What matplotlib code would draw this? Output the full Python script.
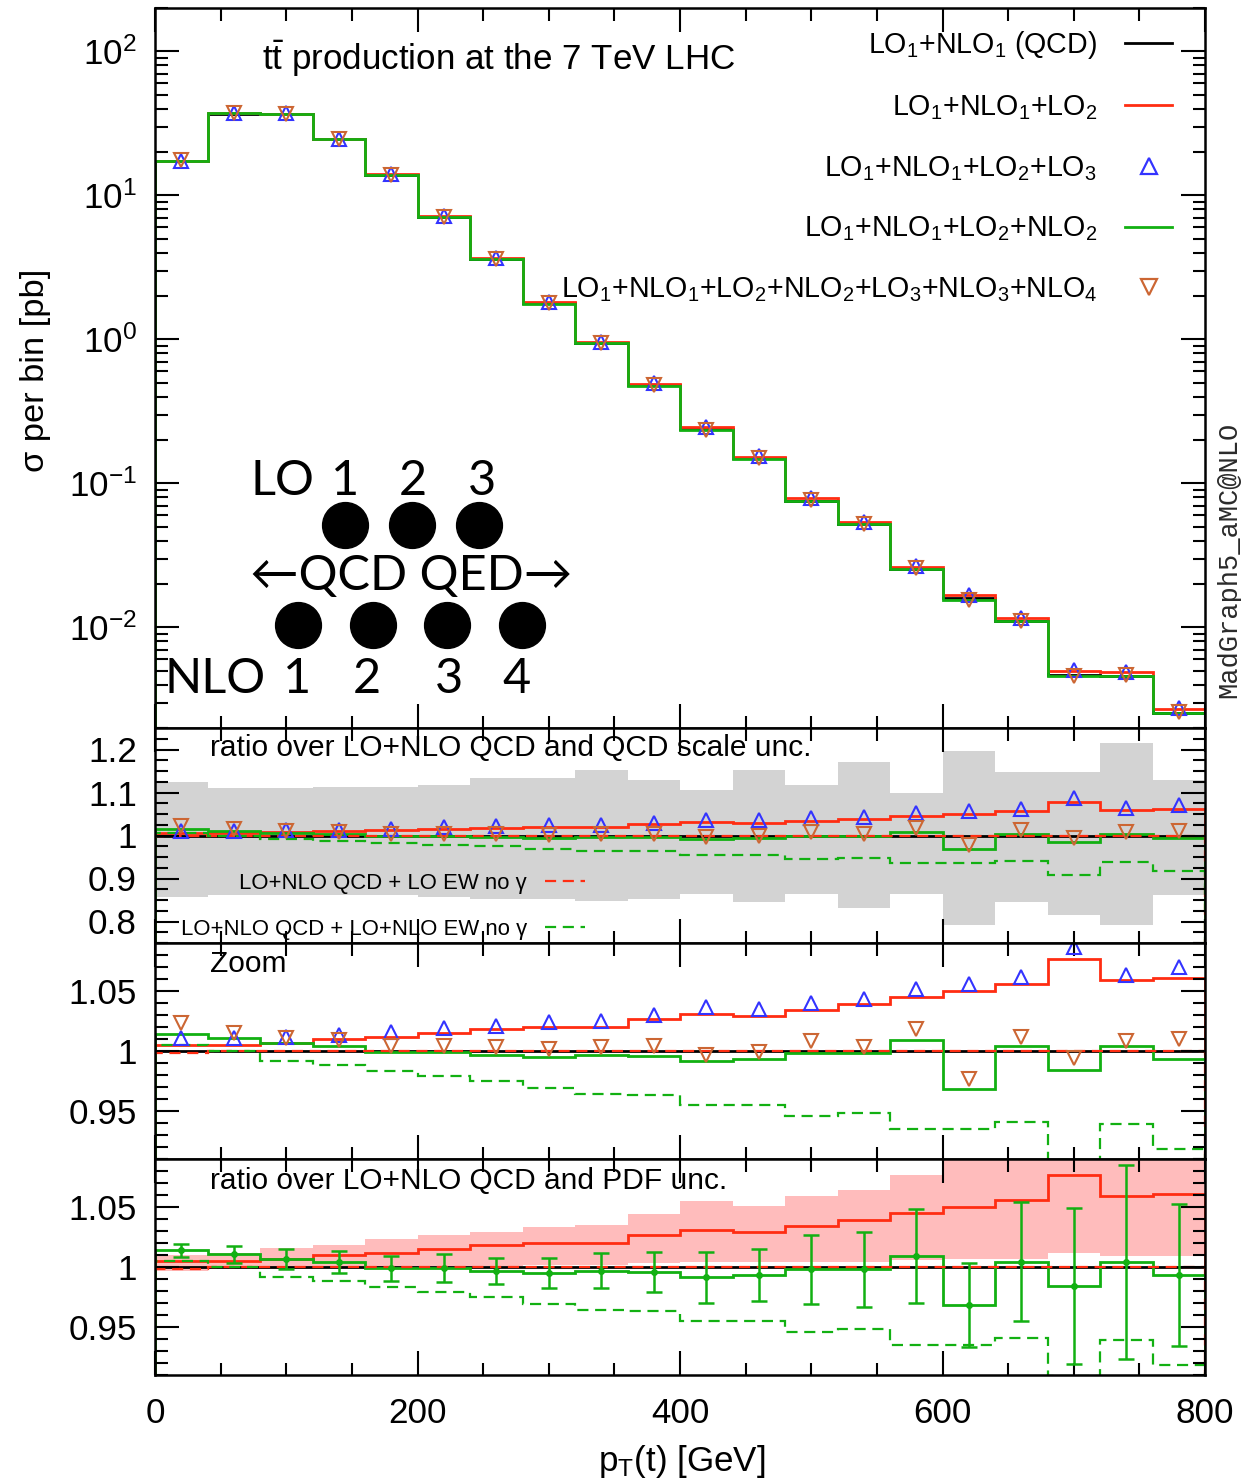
import numpy as np
import matplotlib
matplotlib.use("Agg")
import matplotlib.pyplot as plt
from matplotlib import font_manager
from matplotlib.lines import Line2D
from matplotlib.ticker import MultipleLocator, FuncFormatter, LogLocator, NullFormatter

# ---------------------------------------------------------------- data
pt_edges = [0, 40, 80, 120, 160, 200, 240, 280, 320, 360, 400,
            440, 480, 520, 560, 600, 640, 680, 720, 760, 800]

# LO1+NLO1 (QCD) cross section per bin [pb]
sigma_qcd = [17.2, 37.0, 36.6, 24.5, 13.8, 7.1, 3.6, 1.78, 0.94, 0.48,
             0.237, 0.149, 0.076, 0.052, 0.0253, 0.0159, 0.0110, 0.00464,
             0.00460, 0.00256]

# ratios over LO1+NLO1 (QCD)
ratio_lo2 = [1.005, 1.005, 1.007, 1.010, 1.012, 1.015, 1.018, 1.020, 1.020, 1.027,
             1.031, 1.029, 1.034, 1.039, 1.045, 1.050, 1.056, 1.077, 1.059, 1.061]
ratio_lo3 = [1.011, 1.011, 1.012, 1.013, 1.016, 1.019, 1.021, 1.024, 1.025, 1.030,
             1.037, 1.035, 1.040, 1.043, 1.052, 1.056, 1.062, 1.087, 1.063, 1.070]
ratio_nlo2 = [1.014, 1.0105, 1.0067, 1.004, 0.999, 0.999, 0.9967, 0.995, 0.9967, 0.996,
              0.9914, 0.9933, 0.998, 0.998, 1.0092, 0.9683, 1.0044, 0.984, 1.0044, 0.9933]
ratio_all = [1.023, 1.015, 1.011, 1.009, 1.004, 1.004, 1.003, 1.002, 1.003, 1.0045,
             0.997, 0.999, 1.0086, 1.003, 1.018, 0.977, 1.012, 0.994, 1.008, 1.010]
ratio_lo_ew = [0.998, 1.0, 1.0, 1.0, 1.0, 1.0, 1.0, 1.0, 1.0, 1.0,
               1.0, 1.0, 1.0, 1.0, 1.0, 1.0, 1.0, 1.0, 1.0, 1.0]
ratio_nlo_ew = [1.005, 1.0, 0.992, 0.988, 0.983, 0.979, 0.975, 0.969, 0.964, 0.963,
                0.955, 0.955, 0.946, 0.948, 0.935, 0.935, 0.941, 0.909, 0.939, 0.918]

# QCD scale uncertainty band
scale_hi = [1.125, 1.110, 1.110, 1.113, 1.113, 1.117, 1.134, 1.134, 1.152, 1.129,
            1.106, 1.152, 1.117, 1.171, 1.098, 1.197, 1.148, 1.148, 1.216, 1.129]
scale_lo = [0.858, 0.862, 0.862, 0.862, 0.862, 0.858, 0.853, 0.853, 0.847, 0.853,
            0.863, 0.846, 0.863, 0.832, 0.863, 0.791, 0.845, 0.815, 0.791, 0.862]

# PDF uncertainty band
pdf_hi = [1.010, 1.012, 1.016, 1.018, 1.023, 1.027, 1.029, 1.033, 1.035, 1.044,
          1.055, 1.051, 1.059, 1.064, 1.077, 1.095, 1.100, 1.110, 1.115, 1.110]
pdf_lo = [0.997, 0.998, 0.998, 0.999, 1.000, 1.001, 1.001, 1.002, 1.002, 1.003,
          1.004, 1.004, 1.004, 1.004, 1.006, 1.007, 1.007, 1.012, 1.009, 1.009]

# MC statistical uncertainty of LO1+NLO1+LO2+NLO2 ratio
stat_err = [0.0053, 0.007, 0.0087, 0.009, 0.0104, 0.0115, 0.011, 0.0125, 0.0146, 0.0167,
            0.021, 0.0217, 0.029, 0.0315, 0.039, 0.035, 0.0496, 0.065, 0.081, 0.059]

edges = np.array(pt_edges, dtype=float)
mid = 0.5 * (edges[:-1] + edges[1:])
qcd = np.array(sigma_qcd)
r_lo2, r_lo3, r_nlo2 = np.array(ratio_lo2), np.array(ratio_lo3), np.array(ratio_nlo2)
r_all, r_loew, r_nloew = np.array(ratio_all), np.array(ratio_lo_ew), np.array(ratio_nlo_ew)
r_qcd = qcd / qcd

# ---------------------------------------------------------------- style
names = {f.name for f in font_manager.fontManager.ttflist}
NARROW = 'Liberation Sans Narrow' in names
SANS = 'Liberation Sans Narrow' if NARROW else 'Liberation Sans'
k = 1.0 if NARROW else 0.84

plt.rcParams.update({
    'font.family': [SANS, 'DejaVu Sans'],
    'mathtext.fontset': 'custom',
    'mathtext.rm': SANS,
    'mathtext.it': SANS + ':italic',
    'mathtext.bf': SANS + ':bold',
    'axes.linewidth': 1.8,
    'axes.unicode_minus': False,
})

BLACK = '#000000'
RED = '#ff2d12'
GREEN = '#12b012'
BLUE = '#3333ff'
BROWN = '#cc6633'
GREY = '#d3d3d3'
PINK = '#ffbcbc'
LW = 2.0

fig = plt.figure(figsize=(12.41, 14.82), dpi=100)
L, W = 155 / 1241, 1050 / 1241
H = 1482.0
ax0 = fig.add_axes([L, 1 - 728 / H, W, 720 / H])
ax1 = fig.add_axes([L, 1 - 943 / H, W, 215 / H])
ax2 = fig.add_axes([L, 1 - 1159 / H, W, 216 / H])
ax3 = fig.add_axes([L, 1 - 1375 / H, W, 216 / H])
axes = [ax0, ax1, ax2, ax3]

for ax in axes:
    ax.set_xlim(0, 800)
    ax.xaxis.set_major_locator(MultipleLocator(200))
    ax.xaxis.set_minor_locator(MultipleLocator(50))
    ax.tick_params(which='both', direction='in', top=True, right=True,
                   width=1.5, labelsize=30 * k, pad=13)
    ax.tick_params(which='major', length=17)
    ax.tick_params(which='minor', length=9)
    if ax is not ax3:
        ax.tick_params(labelbottom=False)
ax3.tick_params(axis='x', pad=16)

# ---------------------------------------------------------------- main panel
ax0.set_yscale('log')
ax0.set_ylim(2e-3, 2e2)
ax0.yaxis.set_major_locator(LogLocator(base=10, numticks=10))
ax0.yaxis.set_minor_locator(LogLocator(base=10, subs=np.arange(2, 10), numticks=20))
ax0.yaxis.set_minor_formatter(NullFormatter())

ax0.stairs(qcd, edges, color=BLACK, lw=LW)
ax0.stairs(qcd * r_lo2, edges, color=RED, lw=LW)
ax0.stairs(qcd * r_nlo2, edges, color=GREEN, lw=LW)
ax0.plot(mid, qcd * r_lo3, ls='none', marker='^', ms=10, mfc='none', mec=BLUE, mew=1.5)
ax0.plot(mid, qcd * r_all, ls='none', marker='v', ms=10, mfc='none', mec=BROWN, mew=1.5)

handles = [
    Line2D([], [], color=BLACK, lw=LW),
    Line2D([], [], color=RED, lw=LW),
    Line2D([], [], ls='none', marker='^', ms=12, mfc='none', mec=BLUE, mew=1.6),
    Line2D([], [], color=GREEN, lw=LW),
    Line2D([], [], ls='none', marker='v', ms=12, mfc='none', mec=BROWN, mew=1.6),
]
labels = [
    r'LO$_1$+NLO$_1$ (QCD)',
    r'LO$_1$+NLO$_1$+LO$_2$',
    r'LO$_1$+NLO$_1$+LO$_2$+LO$_3$',
    r'LO$_1$+NLO$_1$+LO$_2$+NLO$_2$',
    r'LO$_1$+NLO$_1$+LO$_2$+NLO$_2$+LO$_3$+NLO$_3$+NLO$_4$',
]
ax0.legend(handles, labels, loc='upper right', bbox_to_anchor=(0.9686, 0.971),
           frameon=False, markerfirst=False, fontsize=24.5 * k, borderpad=0,
           borderaxespad=0, handlelength=1.64, handletextpad=0.98,
           labelspacing=1.12)

ax0.text(0.102, 0.9139, r'$\mathrm{t\bar{t}}$ production at the 7 TeV LHC',
         transform=ax0.transAxes, fontsize=30 * k, ha='left', va='baseline')

# order diagram
DIAG = ['Lato', 'DejaVu Sans']
dkw = dict(transform=ax0.transAxes, fontsize=35, family=DIAG, va='baseline', ha='center')
ax0.text(0.121, 0.3236, 'LO', **dkw)
for x, s in [(0.181, '1'), (0.2457, '2'), (0.3114, '3')]:
    ax0.text(x, 0.3236, s, **dkw)
ax0.text(0.2443, 0.1917, '\u2190QCD QED\u2192', **dkw)
ax0.text(0.0571, 0.0486, 'NLO', **dkw)
for x, s in [(0.1352, '1'), (0.2019, '2'), (0.28, '3'), (0.3448, '4')]:
    ax0.text(x, 0.0486, s, **dkw)
ax0.scatter([0.181, 0.2448, 0.3086], [0.282] * 3, s=33 ** 2, c='k',
            transform=ax0.transAxes, zorder=5)
ax0.scatter([0.1362, 0.2076, 0.2781, 0.3495], [0.143] * 4, s=33 ** 2, c='k',
            transform=ax0.transAxes, zorder=5)

# ---------------------------------------------------------------- ratio panels
fmt = FuncFormatter(lambda v, p: f'{v:g}')

def ratio_lines(ax, markers=True):
    ax.stairs(r_qcd, edges, color=BLACK, lw=LW)
    ax.stairs(r_lo2, edges, color=RED, lw=LW)
    ax.stairs(r_nlo2, edges, color=GREEN, lw=LW)
    ax.stairs(r_loew, edges, color=RED, lw=1.6, ls=(0, (5, 3)))
    ax.stairs(r_nloew, edges, color=GREEN, lw=1.6, ls=(0, (5, 3)))
    if markers:
        ax.plot(mid, r_lo3, ls='none', marker='^', ms=10, mfc='none', mec=BLUE, mew=1.5)
        ax.plot(mid, r_all, ls='none', marker='v', ms=10, mfc='none', mec=BROWN, mew=1.5)

# scale uncertainty
ax1.stairs(scale_hi, edges, baseline=scale_lo, fill=True, color=GREY, lw=0)
ratio_lines(ax1)
ax1.set_ylim(0.75, 1.25)
ax1.yaxis.set_major_locator(MultipleLocator(0.1))
ax1.yaxis.set_minor_locator(MultipleLocator(0.025))
ax1.yaxis.set_major_formatter(fmt)
ax1.text(0.0524, 0.907, 'ratio over LO+NLO QCD and QCD scale unc.',
         transform=ax1.transAxes, fontsize=25.6 * k, ha='left', va='center')
leg_h = [Line2D([], [], color=RED, lw=1.6, ls=(0, (5, 3))),
         Line2D([], [], color=GREEN, lw=1.6, ls=(0, (5, 3)))]
ax1.legend(leg_h, ['LO+NLO QCD + LO EW no \u03b3', 'LO+NLO QCD + LO+NLO EW no \u03b3'],
           loc='lower right', bbox_to_anchor=((585 - 155) / 1050, 0.015),
           frameon=False, markerfirst=False, fontsize=19 * k, borderpad=0,
           borderaxespad=0, handlelength=1.82, handletextpad=0.8,
           labelspacing=1.13)

# zoom
ratio_lines(ax2)
ax2.set_ylim(0.91, 1.09)
ax2.yaxis.set_major_locator(MultipleLocator(0.05))
ax2.yaxis.set_minor_locator(MultipleLocator(0.01))
ax2.yaxis.set_major_formatter(fmt)
ax2.text(0.0524, 0.903, 'Zoom', transform=ax2.transAxes, fontsize=25.6 * k,
         ha='left', va='center')

# PDF uncertainty
ax3.stairs(pdf_hi, edges, baseline=pdf_lo, fill=True, color=PINK, lw=0)
ratio_lines(ax3, markers=False)
ax3.errorbar(mid, r_nlo2, yerr=stat_err, fmt='o', ms=4, color=GREEN,
             elinewidth=1.8, capsize=6, capthick=1.8)
ax3.set_ylim(0.91, 1.09)
ax3.yaxis.set_major_locator(MultipleLocator(0.05))
ax3.yaxis.set_minor_locator(MultipleLocator(0.01))
ax3.yaxis.set_major_formatter(fmt)
ax3.xaxis.set_major_formatter(fmt)
ax3.text(0.0524, 0.898, 'ratio over LO+NLO QCD and PDF unc.',
         transform=ax3.transAxes, fontsize=25.6 * k, ha='left', va='center')

# ---------------------------------------------------------------- axis titles
fig.text(36 / 1241, 1 - 370 / H, '\u03c3 per bin [pb]', rotation=90,
         fontsize=29.5 * k, ha='center', va='center')
fig.text(682 / 1241, 1 - 1462 / H, r'p$_\mathrm{T}$(t) [GeV]',
         fontsize=30 * k, ha='center', va='center')
fig.text(1229 / 1241, 1 - 560 / H, 'MadGraph5_aMC@NLO', rotation=90,
         family='Liberation Mono', fontsize=19.5, ha='center', va='center',
         color='#2a2a2a')

fig.savefig('out.png', dpi=100)
